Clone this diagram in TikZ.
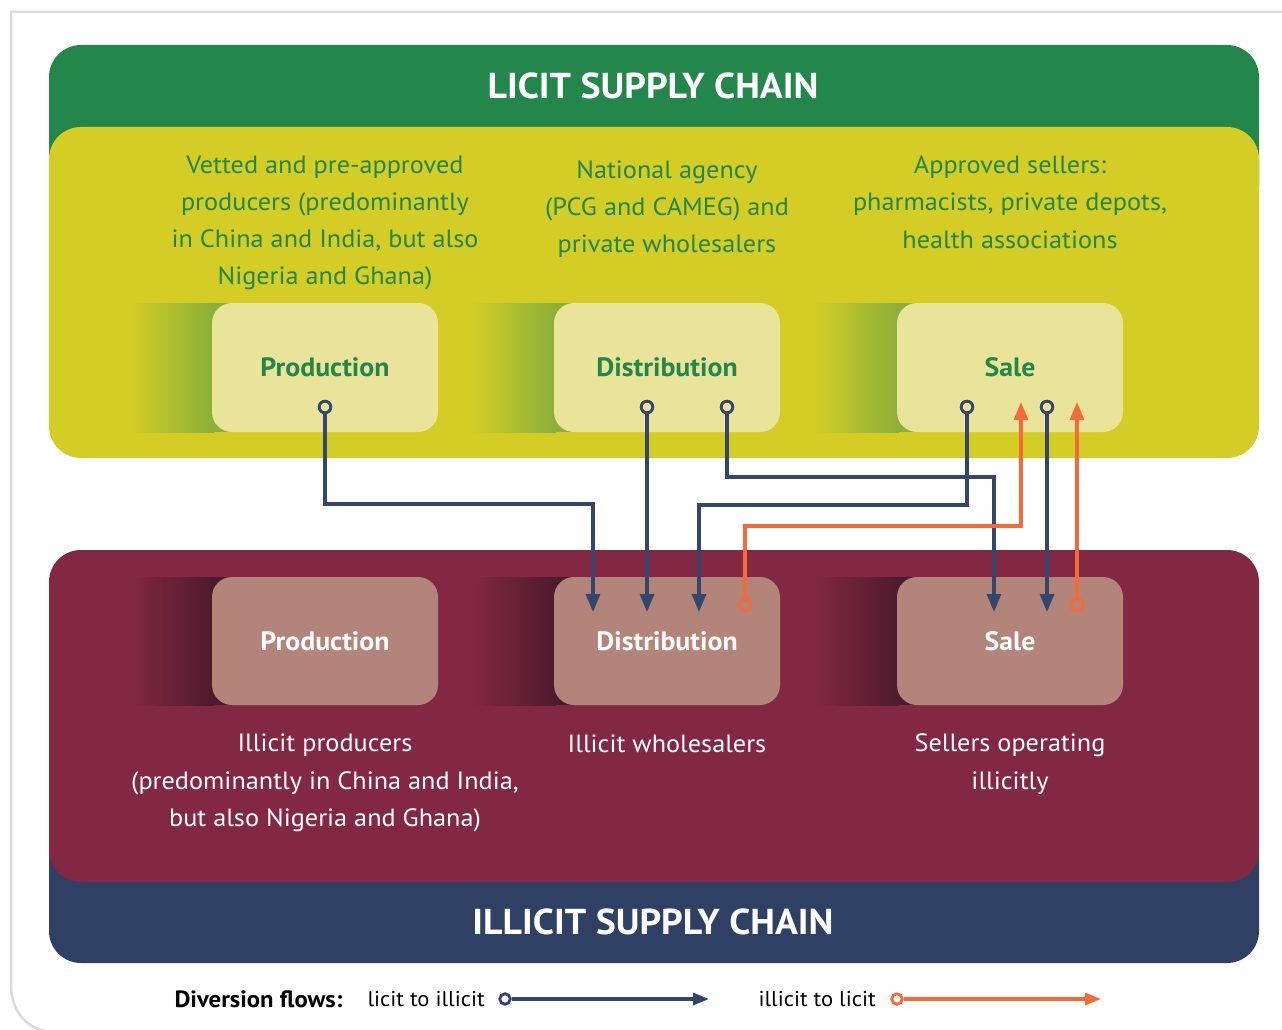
\documentclass[tikz,border=0pt]{standalone}
\usepackage{fontspec}
\setmainfont{PT Sans}[FakeStretch=1.05]
\usetikzlibrary{arrows.meta}
\definecolor{lgreen}{HTML}{23864A}
\definecolor{lyellow}{HTML}{D3CD26}
\definecolor{lbox}{HTML}{E9E49A}
\definecolor{lshade}{HTML}{8AAF3A}
\definecolor{imaroon}{HTML}{832843}
\definecolor{ibox}{HTML}{B3847A}
\definecolor{ishade}{HTML}{4E1A2D}
\definecolor{inavy}{HTML}{2E4064}
\definecolor{flowblue}{HTML}{34466B}
\definecolor{floworange}{HTML}{F46A38}
\definecolor{framegray}{HTML}{DADADA}
\begin{document}
\begin{tikzpicture}[x=1pt,y=-1pt,
  panel/.style={rounded corners=32pt},
  ubox/.style={rectangle, rounded corners=20pt, minimum width=226pt, minimum height=129pt, inner sep=0pt, fill=lbox, text=lgreen, font=\bfseries\fontsize{26.5}{30}\selectfont},
  lbox/.style={rectangle, rounded corners=20pt, minimum width=226pt, minimum height=128pt, inner sep=0pt, fill=ibox, text=white, font=\bfseries\fontsize{26.5}{30}\selectfont},
  utext/.style={align=center, text=lgreen, font=\fontsize{25}{37.3}\selectfont},
  ltext/.style={align=center, text=white, font=\fontsize{25}{37.5}\selectfont},
  title/.style={text=white, font=\bfseries\fontsize{36}{40}\selectfont},
  bport/.style={circle, draw=flowblue, line width=2.8pt, minimum size=11.5pt, inner sep=0pt, fill=lbox},
  oport/.style={circle, draw=floworange, line width=2.8pt, minimum size=11.5pt, inner sep=0pt, fill=ibox},
  bflow/.style={draw=flowblue, line width=3.2pt, -{Triangle[length=18pt,width=14pt]}},
  oflow/.style={draw=floworange, line width=3.2pt, -{Triangle[length=18pt,width=14pt]}},
  legtext/.style={text=black, font=\fontsize{21.5}{26}\selectfont}
]
\useasboundingbox (0,0) rectangle (1282,1030);
\fill[white] (0,0) rectangle (1282,1030);
% outer frame
\draw[framegray, line width=2.5pt] (1290,12) -- (11,12) -- (11,985) .. controls (11,1010) and (26,1032) .. (56,1032) -- (1290,1032);

% licit panels
\fill[lgreen, panel] (49,45) rectangle (1259,220);
\fill[lyellow, panel] (49,127) rectangle (1259,458);
\node[title] (lt) at (653,86) {LICIT SUPPLY CHAIN};

% illicit panels
\fill[inavy, panel] (49,820) rectangle (1259,963);
\fill[imaroon, panel] (49,550) rectangle (1259,882);
\node[title] (it) at (653,922) {ILLICIT SUPPLY CHAIN};

% shading strips
\foreach \xl in {212,554,897} {
  \shade[left color=lyellow, right color=lshade] (\xl-82,303) rectangle (\xl+2,432);
  \fill[lshade] (\xl,303) rectangle (\xl+40,432);
  \shade[left color=imaroon, right color=ishade] (\xl-82,577) rectangle (\xl+2,705);
  \fill[ishade] (\xl,577) rectangle (\xl+40,705);
}

% upper boxes
\node[ubox] (up) at (325,367.5) {Production};
\node[ubox] (ud) at (667,367.5) {Distribution};
\node[ubox] (us) at (1010,367.5) {Sale};
% lower boxes
\node[lbox] (lp) at (325,641) {Production};
\node[lbox] (ld) at (667,641) {Distribution};
\node[lbox] (ls) at (1010,641) {Sale};

% upper texts
\node[utext] (t1) at (325,223) {Vetted and pre-approved\\producers (predominantly\\in China and India, but also\\Nigeria and Ghana)};
\node[utext] (t2) at (667,209) {National agency\\(PCG and CAMEG) and\\private wholesalers};
\node[utext] (t3) at (1010,202) {Approved sellers:\\pharmacists, private depots,\\health associations};
% lower texts
\node[ltext] (t4) at (325,783) {Illicit producers\\(predominantly in China and India,\\but also Nigeria and Ghana)};
\node[ltext] (t5) at (667,744) {Illicit wholesalers};
\node[ltext] (t6) at (1010,764) {Sellers operating\\illicitly};

% ports
\node[bport] (pp) at (325,407) {};
\node[bport] (pd1) at (647,407) {};
\node[bport] (pd2) at (727,407) {};
\node[bport] (ps1) at (967,407) {};
\node[bport] (ps2) at (1047,407) {};
\node[oport] (od) at (745,605) {};
\node[oport] (os) at (1077,605) {};

% targets and bends
\coordinate (ta) at (593,612);
\coordinate (tb) at (647,612);
\coordinate (tc) at (699,612);
\coordinate (td) at (994,612);
\coordinate (te) at (1047,612);
\coordinate (tf) at (1021,402);
\coordinate (tg) at (1077,402);
\coordinate (ba) at (593,504);
\coordinate (bc) at (699,505);
\coordinate (bd) at (994,477);
\coordinate (bf) at (1021,526);

% licit to illicit flows
\draw[bflow] (pp.south) |- (ba) -- (ta);
\draw[bflow] (pd1.south) -- (tb);
\draw[bflow] (pd2.south) |- (bd) -- (td);
\draw[bflow] (ps1.south) |- (bc) -- (tc);
\draw[bflow] (ps2.south) -- (te);
% illicit to licit flows
\draw[oflow] (od.north) |- (bf) -- (tf);
\draw[oflow] (os.north) -- (tg);
% redraw ports on top
\node[bport] at (pp) {};
\node[bport] at (pd1) {};
\node[bport] at (pd2) {};
\node[bport] at (ps1) {};
\node[bport] at (ps2) {};
\node[oport] at (od) {};
\node[oport] at (os) {};

% legend
\node[legtext, anchor=west, font=\bfseries\fontsize{23.5}{26}\selectfont] (lg) at (171,999) {Diversion flows:};
\node[legtext, anchor=west] (lg1) at (364,999) {licit to illicit};
\node[legtext, anchor=west] (lg2) at (755,999) {illicit to licit};
\node[bport, fill=white, minimum size=10.5pt] (lb) at (505,999) {};
\coordinate (lbe) at (709,999);
\node[oport, fill=white, minimum size=10.5pt] (lo) at (897,999) {};
\coordinate (loe) at (1101,999);
\draw[bflow, -{Triangle[length=16pt,width=12pt]}] (lb.east) -- (lbe);
\draw[oflow, -{Triangle[length=16pt,width=12pt]}] (lo.east) -- (loe);
\end{tikzpicture}
\end{document}
